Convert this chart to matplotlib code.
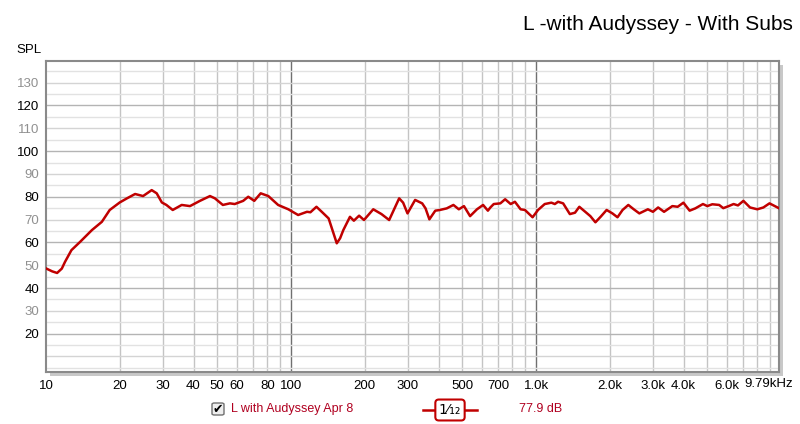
import numpy as np
import matplotlib.pyplot as plt
from matplotlib.patches import FancyBboxPatch

plt.rcParams['font.family'] = ['Liberation Sans', 'DejaVu Sans']

freq = [10.0, 10.6, 11.1, 11.6, 11.96, 12.7, 13.8, 15.4, 16.9, 18.2,
        20.0, 21.4, 23.1, 24.9, 27.0, 28.3, 29.7, 31.0, 32.9, 35.8,
        38.7, 42.5, 46.7, 48.9, 52.7, 56.3, 58.9, 63.8, 66.9, 70.8,
        75.2, 80.8, 88.6, 97.5, 106.9, 116.2, 120, 127, 133.5, 142.4,
        153.7, 158.6, 163.5, 174, 180.5, 189.6, 198.5, 216.6, 234, 251.5,
        276.3, 286.8, 298.8, 321, 343, 354, 367, 388, 405, 432,
        460, 484, 508, 538, 574, 608, 636, 651, 672, 715,
        748, 788, 820, 865, 901, 968, 1019, 1085, 1155, 1193,
        1230, 1290, 1374, 1442, 1502, 1588, 1666, 1747, 1834, 1941,
        2050, 2150, 2255, 2380, 2505, 2640, 2860, 3000, 3150, 3330,
        3600, 3785, 3995, 4235, 4467, 4800, 5000, 5240, 5590, 5810,
        6115, 6400, 6670, 7020, 7470, 8000, 8470, 8970, 9670, 9790]
spl = [48.6, 47.3, 46.6, 48.5, 51.5, 56.6, 60.3, 65.4, 69.0, 74.2,
       77.5, 79.3, 81.2, 80.3, 82.9, 81.5, 77.5, 76.4, 74.2, 76.4,
       75.9, 78.2, 80.3, 79.3, 76.4, 77.1, 76.8, 78.2, 80.0, 78.2,
       81.5, 80.3, 76.4, 74.5, 72.0, 73.4, 73.2, 75.6, 73.4, 70.5,
       59.6, 61.8, 65.4, 71.2, 69.5, 71.7, 69.8, 74.5, 72.4, 69.8,
       79.3, 77.4, 72.7, 78.6, 77.1, 74.9, 70.1, 73.9, 74.2, 74.9,
       76.4, 74.5, 75.9, 71.5, 74.5, 76.4, 73.9, 75.3, 76.8, 77.1,
       78.9, 76.8, 77.8, 74.5, 74.2, 71.0, 74.2, 76.8, 77.4, 76.8,
       77.8, 77.1, 72.4, 73.0, 75.6, 73.4, 71.5, 68.8, 71.2, 74.2,
       72.7, 71.0, 74.2, 76.4, 74.5, 72.7, 74.5, 73.4, 75.3, 73.4,
       75.9, 75.6, 77.4, 73.9, 74.9, 76.8, 75.9, 76.7, 76.4, 75.0,
       75.9, 76.8, 76.2, 78.2, 75.3, 74.5, 75.3, 77.1, 75.3, 75.0]

xticks = [10, 20, 30, 40, 50, 60, 80, 100, 200, 300, 500, 700, 1000, 2000, 3000, 4000, 6000]
xlabels = ['10', '20', '30', '40', '50', '60', '80', '100', '200', '300', '500', '700',
           '1.0k', '2.0k', '3.0k', '4.0k', '6.0k']
yticks = list(range(20, 140, 10))

red = '#c00000'
pos = [0.0575, 0.1226, 0.916, 0.7342]

fig = plt.figure(figsize=(8, 4.24), dpi=100)

# drop shadow of the plot frame (an empty axes drawn first)
sh = fig.add_axes([pos[0] + 4/800, pos[1] - 4/424, pos[2], pos[3]])
sh.set_facecolor('#c8c8c8')
sh.set_xticks([])
sh.set_yticks([])
for s in sh.spines.values():
    s.set_visible(False)

ax = fig.add_axes(pos)
ax.set_xscale('log')
ax.set_xlim(10, 9790)
ax.set_ylim(3.2, 139.6)

# grid
for f in [m * d for d in (10, 100, 1000) for m in range(1, 10)]:
    if 10 < f < 9790:
        c = '#707070' if f in (100, 1000) else '#c4c4c4'
        ax.axvline(f, color=c, lw=1.0, zorder=1)
for v in range(5, 140, 5):
    if v % 20 == 0:
        c = '#b4b4b4'
    elif v % 10 == 0:
        c = '#d4d4d4'
    else:
        c = '#e2e2e2'
    ax.axhline(v, color=c, lw=1.0, zorder=1)

ax.plot(freq, spl, color=red, lw=1.8, solid_joinstyle='round', zorder=3)

ax.set_xticks(xticks)
ax.set_xticklabels(xlabels)
ax.minorticks_off()
ax.set_yticks(yticks)
ax.set_yticklabels([str(v) for v in yticks])
for lab, v in zip(ax.get_yticklabels(), yticks):
    lab.set_color('black' if v % 20 == 0 else '#909090')
ax.tick_params(length=0, labelsize=9.5, pad=5)
ax.tick_params(axis='x', pad=6)

for s in ax.spines.values():
    s.set_color('#8a8a8a')
    s.set_linewidth(1.5)

fig.text(793/800, 1 - 384/424, '9.79kHz', ha='right', va='center', fontsize=9.5)
fig.text(16/800, 1 - 50/424, 'SPL', ha='left', va='center', fontsize=9.5)
fig.text(793/800, 1 - 30/424, 'L -with Audyssey - With Subs', ha='right',
         va='baseline', fontsize=15)

# legend row
fig.patches.append(FancyBboxPatch((212/800, 1 - 415/424), 12/800, 12/424,
                                  boxstyle='round,pad=0,rounding_size=0.003',
                                  transform=fig.transFigure, facecolor='#eeeeee',
                                  edgecolor='#707070', lw=1.0))
fig.text(218/800, 1 - 409/424, '\u2714', ha='center', va='center', fontsize=9,
         family=['DejaVu Sans'], color='black')
fig.text(231/800, 1 - 409/424, 'L with Audyssey Apr 8', ha='left', va='center',
         fontsize=9, color='#b00020')
fig.add_artist(plt.Line2D([423/800, 477/800], [1 - 410/424, 1 - 410/424],
                          color=red, lw=1.8, transform=fig.transFigure))
fig.text(450/800, 1 - 410/424, '1\u2044\u2081\u2082', ha='center', va='center',
         fontsize=10, family=['DejaVu Sans'], color='black',
         bbox=dict(boxstyle='round,pad=0.25', facecolor='white', edgecolor=red, lw=1.5))
fig.text(519/800, 1 - 409/424, '77.9 dB', ha='left', va='center', fontsize=9,
         color='#b00020')

fig.savefig('out.png', dpi=100)
